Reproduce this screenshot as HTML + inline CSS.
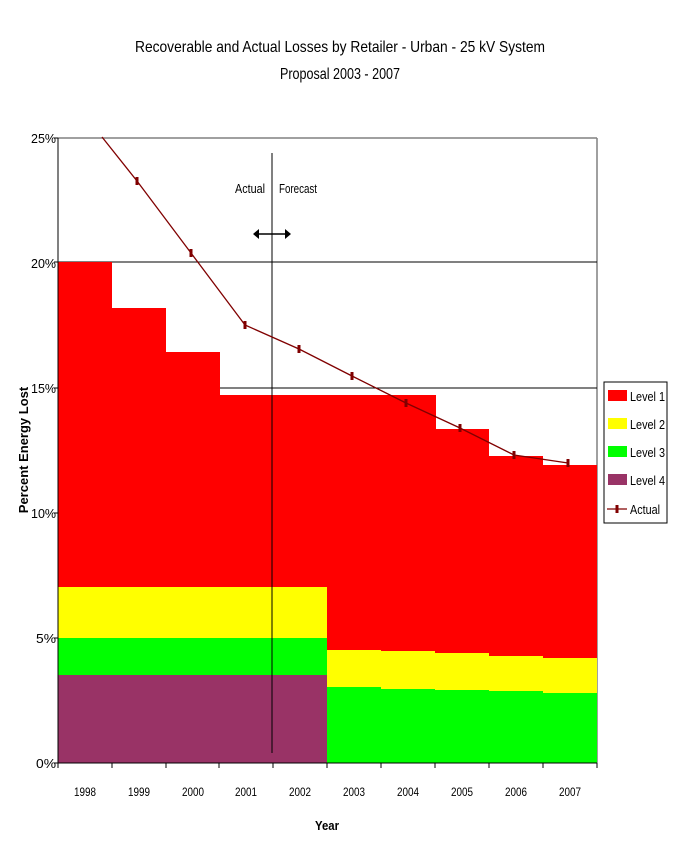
<!DOCTYPE html>
<html><head><style>body{margin:0;background:#fff}svg{display:block}text{font-family:"Liberation Sans",sans-serif}</style></head>
<body>
<svg width="673" height="862" xmlns="http://www.w3.org/2000/svg">
<text x="340" y="52" font-size="16" text-anchor="middle" textLength="410" lengthAdjust="spacingAndGlyphs">Recoverable and Actual Losses by Retailer - Urban - 25 kV System</text>
<text x="340" y="79" font-size="16" text-anchor="middle" textLength="120" lengthAdjust="spacingAndGlyphs">Proposal 2003 - 2007</text>
<!-- frame -->
<line x1="58" y1="138" x2="597" y2="138" stroke="#808080" stroke-width="1.5"/>
<line x1="597" y1="138" x2="597" y2="763" stroke="#808080" stroke-width="1.5"/>
<line x1="58" y1="262" x2="597" y2="262" stroke="#000"/>
<line x1="58" y1="388" x2="597" y2="388" stroke="#000"/>
<line x1="58" y1="513" x2="597" y2="513" stroke="#000"/>
<line x1="58" y1="638" x2="597" y2="638" stroke="#000"/>
<!-- red -->
<g fill="#ff0000">
<rect x="58" y="262" width="54" height="501"/>
<rect x="112" y="308" width="54" height="455"/>
<rect x="166" y="352" width="54" height="411"/>
<rect x="219" y="395" width="217" height="368"/>
<rect x="435" y="403" width="0.1" height="0"/>
<rect x="381" y="403" width="54" height="360"/>
<rect x="435" y="429" width="54" height="334"/>
<rect x="489" y="456" width="54" height="307"/>
<rect x="543" y="465" width="54" height="298"/>
</g>
<g fill="#ffff00">
<rect x="58" y="587" width="269" height="51"/>
<rect x="327" y="650" width="54" height="37"/>
<rect x="381" y="651" width="54" height="38"/>
<rect x="435" y="653" width="54" height="37"/>
<rect x="489" y="656" width="54" height="35"/>
<rect x="543" y="658" width="54" height="35"/>
</g>
<g fill="#00ff00">
<rect x="58" y="638" width="269" height="37"/>
<rect x="327" y="687" width="54" height="76"/>
<rect x="381" y="689" width="54" height="74"/>
<rect x="435" y="690" width="54" height="73"/>
<rect x="489" y="691" width="54" height="72"/>
<rect x="543" y="693" width="54" height="70"/>
</g>
<rect x="58" y="675" width="269" height="88" fill="#993366"/>
<!-- axes -->
<line x1="58" y1="138" x2="58" y2="763" stroke="#000"/>
<line x1="58" y1="763" x2="597" y2="763" stroke="#000"/>
<g stroke="#000">
<line x1="54" y1="138" x2="58" y2="138"/><line x1="54" y1="262" x2="58" y2="262"/><line x1="54" y1="388" x2="58" y2="388"/><line x1="54" y1="513" x2="58" y2="513"/><line x1="54" y1="638" x2="58" y2="638"/><line x1="54" y1="763" x2="58" y2="763"/>
<line x1="58" y1="763" x2="58" y2="768"/><line x1="112" y1="763" x2="112" y2="768"/><line x1="166" y1="763" x2="166" y2="768"/><line x1="219" y1="763" x2="219" y2="768"/><line x1="273" y1="763" x2="273" y2="768"/><line x1="327" y1="763" x2="327" y2="768"/><line x1="381" y1="763" x2="381" y2="768"/><line x1="435" y1="763" x2="435" y2="768"/><line x1="489" y1="763" x2="489" y2="768"/><line x1="543" y1="763" x2="543" y2="768"/><line x1="597" y1="763" x2="597" y2="768"/>
</g>
<g font-size="13" text-anchor="end">
<text x="56" y="143" textLength="25" lengthAdjust="spacingAndGlyphs">25%</text>
<text x="56" y="268" textLength="25" lengthAdjust="spacingAndGlyphs">20%</text>
<text x="56" y="393" textLength="25" lengthAdjust="spacingAndGlyphs">15%</text>
<text x="56" y="518" textLength="25" lengthAdjust="spacingAndGlyphs">10%</text>
<text x="56" y="643" textLength="20" lengthAdjust="spacingAndGlyphs">5%</text>
<text x="56" y="768" textLength="20" lengthAdjust="spacingAndGlyphs">0%</text>
</g>
<g font-size="12" text-anchor="middle">
<text x="85" y="796" textLength="22" lengthAdjust="spacingAndGlyphs">1998</text>
<text x="139" y="796" textLength="22" lengthAdjust="spacingAndGlyphs">1999</text>
<text x="193" y="796" textLength="22" lengthAdjust="spacingAndGlyphs">2000</text>
<text x="246" y="796" textLength="22" lengthAdjust="spacingAndGlyphs">2001</text>
<text x="300" y="796" textLength="22" lengthAdjust="spacingAndGlyphs">2002</text>
<text x="354" y="796" textLength="22" lengthAdjust="spacingAndGlyphs">2003</text>
<text x="408" y="796" textLength="22" lengthAdjust="spacingAndGlyphs">2004</text>
<text x="462" y="796" textLength="22" lengthAdjust="spacingAndGlyphs">2005</text>
<text x="516" y="796" textLength="22" lengthAdjust="spacingAndGlyphs">2006</text>
<text x="570" y="796" textLength="22" lengthAdjust="spacingAndGlyphs">2007</text>
</g>
<text x="327" y="830" font-size="13" font-weight="bold" text-anchor="middle" textLength="24" lengthAdjust="spacingAndGlyphs">Year</text>
<text transform="translate(28,450) rotate(-90)" font-size="13" font-weight="bold" text-anchor="middle">Percent Energy Lost</text>
<!-- actual/forecast -->
<line x1="272" y1="153" x2="272" y2="753" stroke="#000"/>
<text x="265" y="193" font-size="13" text-anchor="end" textLength="30" lengthAdjust="spacingAndGlyphs">Actual</text>
<text x="279" y="193" font-size="13" textLength="38" lengthAdjust="spacingAndGlyphs">Forecast</text>
<line x1="257" y1="234" x2="287" y2="234" stroke="#000" stroke-width="1.5"/>
<polygon points="253,234 259,229 259,239" fill="#000"/>
<polygon points="291,234 285,229 285,239" fill="#000"/>
<!-- actual line -->
<polyline points="102,137 137,181 191,253 245,325 299,349 352,376 406,403 460,428 514,455 568,463" fill="none" stroke="#800000" stroke-width="1.3"/>
<g stroke="#800000" stroke-width="3">
<line x1="137" y1="177" x2="137" y2="185"/><line x1="191" y1="249" x2="191" y2="257"/><line x1="245" y1="321" x2="245" y2="329"/><line x1="299" y1="345" x2="299" y2="353"/><line x1="352" y1="372" x2="352" y2="380"/><line x1="406" y1="399" x2="406" y2="407"/><line x1="460" y1="424" x2="460" y2="432"/><line x1="514" y1="451" x2="514" y2="459"/><line x1="568" y1="459" x2="568" y2="467"/>
</g>
<!-- legend -->
<rect x="604" y="382" width="63" height="141" fill="#fff" stroke="#000"/>
<rect x="608" y="390" width="19" height="11" fill="#ff0000"/>
<rect x="608" y="418" width="19" height="11" fill="#ffff00"/>
<rect x="608" y="446" width="19" height="11" fill="#00ff00"/>
<rect x="608" y="474" width="19" height="11" fill="#993366"/>
<line x1="607" y1="509" x2="627" y2="509" stroke="#800000" stroke-width="1.3"/>
<line x1="617" y1="505" x2="617" y2="513" stroke="#800000" stroke-width="3"/>
<g font-size="13">
<text x="630" y="401" textLength="35" lengthAdjust="spacingAndGlyphs">Level 1</text>
<text x="630" y="429" textLength="35" lengthAdjust="spacingAndGlyphs">Level 2</text>
<text x="630" y="457" textLength="35" lengthAdjust="spacingAndGlyphs">Level 3</text>
<text x="630" y="485" textLength="35" lengthAdjust="spacingAndGlyphs">Level 4</text>
<text x="630" y="514" textLength="30" lengthAdjust="spacingAndGlyphs">Actual</text>
</g>
</svg>
</body></html>
